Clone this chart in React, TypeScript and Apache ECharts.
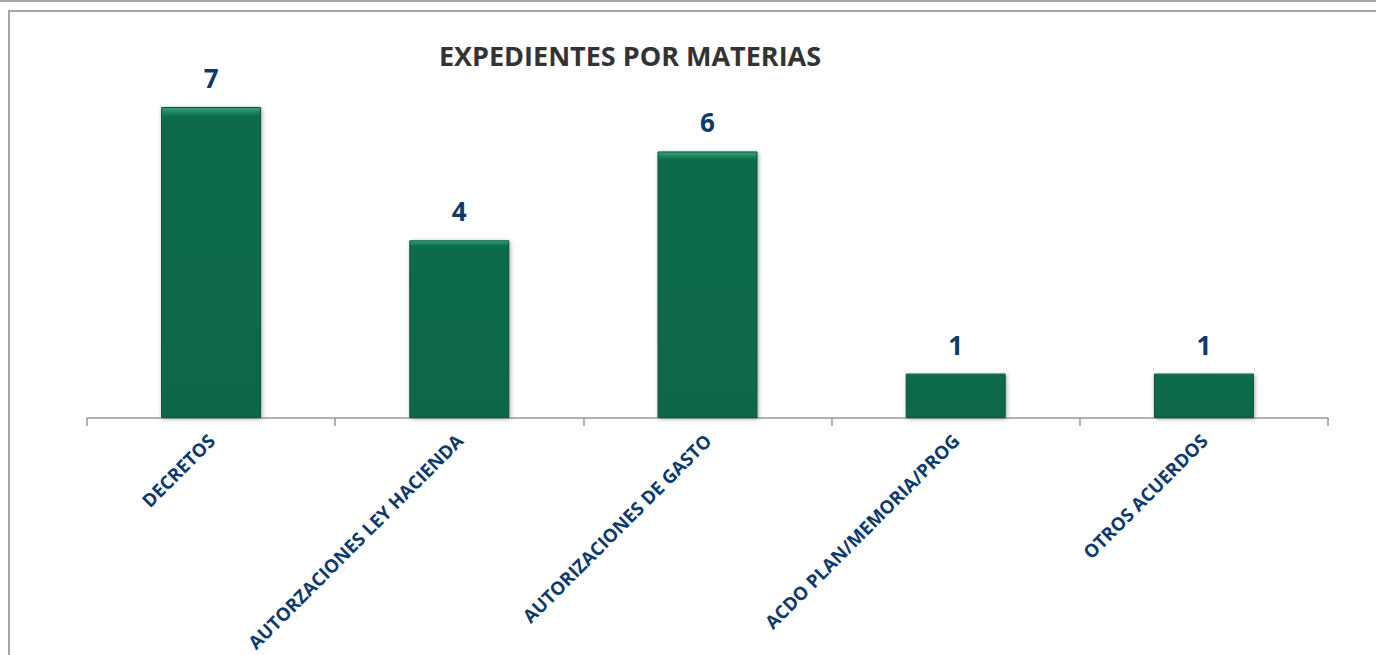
import React, { useEffect, useRef } from "react";
import * as echarts from "echarts";

const categories = [
  "DECRETOS",
  "AUTORZACIONES LEY HACIENDA",
  "AUTORIZACIONES DE GASTO",
  "ACDO PLAN/MEMORIA/PROG",
  "OTROS ACUERDOS",
];
const values = [7, 4, 6, 1, 1];
const titleText = "EXPEDIENTES POR MATERIAS";

export default function App() {
  const ref = useRef<HTMLDivElement>(null);
  useEffect(() => {
    if (!ref.current) return;
    const chart = echarts.init(ref.current, null, { renderer: "svg" });
    chart.setOption({
      animation: false,
      backgroundColor: "#ffffff",
      title: {
        text: titleText,
        left: 625,
        textAlign: "center",
        top: 37,
        textStyle: {
          fontFamily: "Open Sans",
          fontWeight: "bold",
          fontSize: 27,
          color: "#333333",
        },
      },
      graphic: [
        {
          type: "line",
          shape: { x1: 0, y1: 1, x2: 1376, y2: 1 },
          style: { stroke: "#a6a6a6", lineWidth: 2 },
          silent: true,
        },
        {
          type: "rect",
          shape: { x: 9, y: 11, width: 1400, height: 700 },
          style: { fill: "none", stroke: "#a6a6a6", lineWidth: 2 },
          silent: true,
        },
      ],
      grid: { left: 87, right: 48, top: 62.6, bottom: 237, containLabel: false },
      xAxis: {
        type: "category",
        data: categories,
        axisLine: { lineStyle: { color: "#999999", width: 1.5 } },
        axisTick: { show: true, length: 8, alignWithLabel: false, lineStyle: { color: "#999999", width: 1.5 } },
        axisLabel: {
          rotate: 45,
          interval: 0,
          margin: 19,
          fontFamily: "Open Sans",
          fontWeight: "bold",
          fontSize: 18.5,
          color: "#0e3a6b",
        },
      },
      yAxis: {
        type: "value",
        min: 0,
        max: 8,
        show: false,
        splitLine: { show: false },
      },
      series: [
        {
          type: "bar",
          data: values,
          barWidth: 100,
          itemStyle: {
            color: {
              type: "linear",
              x: 0, y: 0, x2: 0, y2: 1,
              global: false,
              colorStops: [
                { offset: 0, color: "#3aa57c" },
                { offset: 0.015, color: "#1f875f" },
                { offset: 0.03, color: "#0a6b4b" },
                { offset: 1, color: "#086848" },
              ],
            },
            borderColor: "#07553b",
            borderWidth: 1,
            shadowBlur: 4,
            shadowColor: "rgba(0,0,0,0.35)",
            shadowOffsetX: 1,
            shadowOffsetY: 1,
          },
          label: {
            show: true,
            position: "top",
            distance: 16,
            fontFamily: "Open Sans",
            fontWeight: "bold",
            fontSize: 26,
            color: "#0e3a6b",
          },
        },
      ],
    });
    return () => chart.dispose();
  }, []);
  return (
    <div
      ref={ref}
      style={{ position: "fixed", left: 0, top: 0, width: 1376, height: 655 }}
    />
  );
}
